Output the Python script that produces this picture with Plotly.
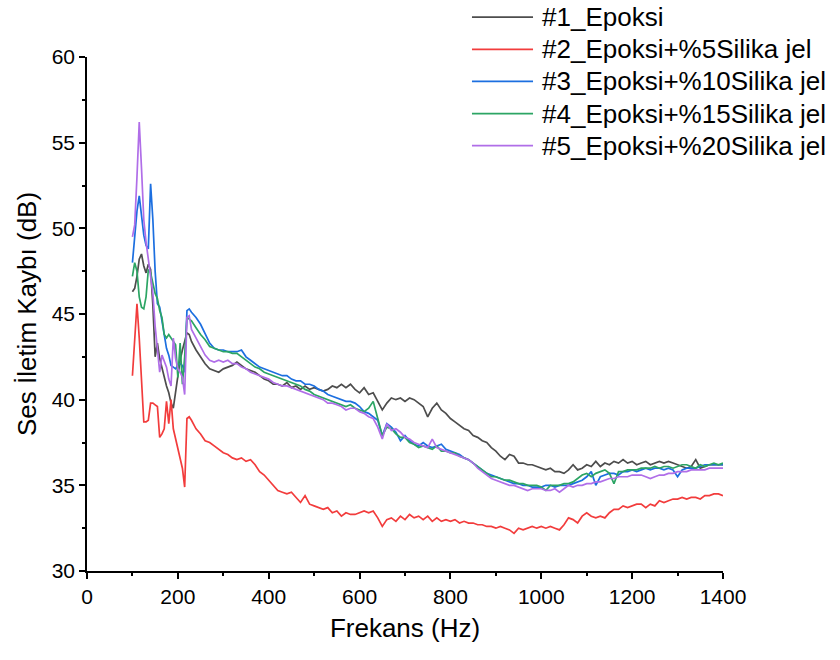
import plotly.graph_objects as go

# Frequency grid (Hz): 5 Hz steps in the low band, 10 Hz steps above
freq = list(range(100, 230, 5)) + list(range(230, 1401, 10))

# Sound transmission loss (dB), low band 100-225 Hz (5 Hz steps)
epoksi_low = [46.3, 46.5, 47.2, 48.2, 48.5, 47.8, 47.4, 47.9, 47.6, 45.5,
              42.5, 43.3, 42.4, 41.8, 41.2, 40.8, 40.4, 39.8, 39.5, 40.5,
              41.5, 42.3, 42.9, 43.5, 43.9, 43.8]
si5_low = [41.4, 43.5, 45.6, 43.6, 41.5, 38.7, 38.7, 38.8, 39.8, 39.8,
           39.7, 39.6, 37.8, 38.0, 38.3, 39.9, 38.6, 40.0, 38.3, 37.7,
           37.3, 36.6, 36.0, 34.9, 38.9, 39.0]
si10_low = [48.0, 49.5, 51.0, 51.9, 50.6, 49.6, 49.0, 48.8, 52.6, 50.5,
            47.5, 45.6, 45.4, 44.6, 43.8, 43.0, 42.6, 42.0, 41.9, 41.8,
            42.0, 42.1, 42.0, 41.6, 45.2, 45.3]
si15_low = [47.2, 48.0, 47.5, 46.0, 45.4, 45.3, 46.0, 47.6, 47.4, 46.8,
            46.2, 45.9, 45.2, 44.8, 43.8, 43.6, 43.8, 43.6, 43.4, 43.2,
            41.3, 43.3, 40.9, 42.5, 44.8, 44.7]
si20_low = [49.5, 50.2, 53.0, 56.2, 53.5, 50.5, 49.2, 48.2, 47.5, 46.2,
            44.3, 43.0, 41.6, 42.6, 42.2, 41.9, 41.2, 40.8, 43.6, 42.4,
            41.8, 41.6, 41.3, 40.3, 44.8, 44.9]

# 230-1400 Hz (10 Hz steps)
epoksi_high = [
    43.4, 42.9, 42.5, 42.1, 41.8, 41.7, 41.6, 41.8, 41.9, 42.0,
    42.2, 42.0, 41.8, 41.7, 41.6, 41.4, 41.2, 41.1, 40.9, 40.9,
    40.8, 41.0, 40.7, 40.8, 40.6, 40.8, 40.6, 40.7, 40.6, 40.5,
    40.6, 40.8, 40.7, 40.9, 40.7, 40.9, 40.6, 40.4, 40.7, 40.3,
    40.4, 39.9, 39.4, 39.8, 40.1, 40.0, 40.1, 39.9, 40.1, 40.0,
    39.8, 39.6, 39.0, 39.5, 39.8, 39.4, 39.2, 38.9, 38.7, 38.5,
    38.3, 38.2, 37.9, 37.8, 37.6, 37.5, 37.2, 37.0, 36.7, 36.5,
    36.8, 36.7, 36.3, 36.3, 36.2, 36.2, 36.1, 36.0, 35.9, 36.0,
    35.8, 35.8, 35.7, 35.9, 36.2, 35.9, 36.0, 36.2, 36.1, 36.4,
    36.1, 36.3, 36.2, 36.4, 36.3, 36.5, 36.3, 36.4, 36.2, 36.3,
    36.4, 36.2, 36.3, 36.4, 36.3, 36.4, 36.3, 36.2, 36.1, 36.0,
    36.1, 36.5, 36.0, 36.1, 36.2, 36.2, 36.2, 36.2]
si5_high = [
    38.8, 38.3, 38.0, 37.6, 37.5, 37.3, 37.1, 36.9, 36.8, 36.6,
    36.5, 36.6, 36.4, 36.5, 36.2, 35.8, 35.6, 35.3, 35.0, 34.7,
    34.6, 34.5, 34.6, 34.3, 34.0, 34.4, 33.9, 33.8, 33.7, 33.6,
    33.7, 33.4, 33.5, 33.2, 33.4, 33.3, 33.3, 33.4, 33.5, 33.4,
    33.5, 33.1, 32.6, 33.0, 33.1, 32.9, 33.2, 33.0, 33.3, 33.1,
    33.2, 33.0, 33.2, 32.9, 33.1, 32.9, 33.0, 32.9, 33.0, 32.8,
    32.9, 32.8, 32.8, 32.7, 32.7, 32.6, 32.6, 32.5, 32.6, 32.5,
    32.4, 32.2, 32.5, 32.4, 32.5, 32.6, 32.5, 32.6, 32.5, 32.6,
    32.5, 32.4, 32.7, 33.1, 33.0, 32.8, 33.2, 33.4, 33.2, 33.1,
    33.2, 33.1, 33.4, 33.6, 33.6, 33.8, 33.7, 33.8, 33.9, 33.9,
    33.7, 33.9, 33.8, 34.1, 34.0, 34.1, 34.2, 34.2, 34.3, 34.2,
    34.3, 34.3, 34.2, 34.4, 34.4, 34.5, 34.5, 34.4]
si10_high = [
    45.1, 44.8, 44.4, 43.8, 43.3, 43.0, 42.9, 42.9, 42.8, 42.8,
    42.8, 42.9, 42.5, 42.3, 42.1, 41.9, 41.8, 41.7, 41.6, 41.5,
    41.4, 41.4, 41.2, 41.1, 41.1, 40.9, 40.9, 40.8, 40.6, 40.5,
    40.3, 40.2, 40.1, 40.0, 39.9, 39.9, 39.8, 39.6, 39.3, 39.2,
    39.0, 38.8, 37.9, 38.6, 38.4, 38.1, 37.6, 37.9, 37.6, 37.4,
    37.3, 37.5, 37.3, 37.2, 37.3, 37.4, 37.1, 37.0, 36.9, 36.8,
    36.6, 36.5, 36.3, 36.1, 35.9, 35.7, 35.6, 35.5, 35.4, 35.3,
    35.2, 35.1, 35.1, 35.0, 35.0, 34.9, 34.9, 34.9, 35.0, 35.0,
    34.9, 35.0, 35.0, 35.0, 35.1, 35.2, 35.3, 35.5, 35.8, 35.0,
    35.5, 35.6, 35.7, 35.7, 35.6, 35.8, 35.8, 35.9, 35.8, 35.9,
    36.0, 35.9, 36.0, 36.0, 35.9, 36.0, 35.9, 35.5, 35.9, 36.0,
    36.0, 36.0, 36.1, 36.2, 36.2, 36.2, 36.2, 36.2]
si15_high = [
    44.6, 44.2, 43.8, 43.5, 43.1, 43.0, 42.9, 42.8, 42.8, 42.7,
    42.7, 42.5, 42.3, 42.1, 41.9, 41.8, 41.6, 41.5, 41.4, 41.3,
    41.2, 41.1, 41.0, 40.9, 40.8, 40.6, 40.5, 40.3, 40.2, 40.1,
    40.0, 39.9, 39.8, 39.7, 39.6, 39.7, 39.5, 39.4, 39.3, 39.5,
    39.9, 38.9, 37.9, 38.4, 38.3, 38.0, 37.8, 37.8, 37.5, 37.4,
    37.2, 37.3, 37.2, 37.1, 37.3, 37.0, 37.0, 36.9, 36.9, 36.7,
    36.6, 36.5, 36.3, 36.1, 35.9, 35.7, 35.5, 35.5, 35.4, 35.3,
    35.3, 35.2, 35.1, 35.1, 35.0, 35.0, 35.0, 34.9, 34.7, 35.0,
    35.0, 35.0, 35.1, 35.1, 35.2, 35.4, 35.6, 35.7, 35.5, 35.7,
    35.8, 35.9, 35.7, 35.1, 35.8, 35.8, 35.9, 35.9, 35.9, 36.0,
    36.0, 36.0, 36.1, 36.0, 36.1, 36.1, 36.0, 36.1, 36.2, 36.2,
    36.1, 36.0, 36.2, 36.1, 36.2, 36.3, 36.2, 36.3]
si20_high = [
    44.1, 43.6, 43.1, 42.6, 42.3, 42.2, 42.3, 42.2, 42.3, 42.1,
    42.1, 41.9, 41.8, 41.6, 41.5, 41.4, 41.3, 41.2, 41.0, 40.9,
    40.8, 40.8, 40.7, 40.6, 40.5, 40.4, 40.3, 40.2, 40.1, 40.0,
    39.8, 39.8, 39.7, 39.6, 39.4, 39.5, 39.5, 39.3, 39.2, 39.0,
    38.9, 38.4, 37.7, 38.6, 38.2, 38.3, 38.1, 37.8, 37.7, 37.5,
    37.4, 37.3, 37.2, 37.7, 37.2, 37.1, 37.0, 36.9, 36.8, 36.7,
    36.6, 36.5, 36.3, 36.0, 35.8, 35.6, 35.4, 35.3, 35.2, 35.1,
    35.0, 35.0, 34.9, 34.8, 34.7, 34.8, 34.8, 34.8, 34.7, 34.7,
    34.8, 34.6, 34.8, 35.0, 34.9, 35.0, 35.0, 35.1, 35.1, 35.2,
    35.2, 35.3, 35.4, 35.4, 35.5, 35.5, 35.5, 35.6, 35.6, 35.6,
    35.5, 35.4, 35.5, 35.6, 35.6, 35.7, 35.7, 35.8, 35.8, 35.8,
    35.9, 35.9, 35.9, 35.9, 36.0, 36.0, 36.0, 36.0]

names = ["#1_Epoksi", "#2_Epoksi+%5Silika jel", "#3_Epoksi+%10Silika jel",
         "#4_Epoksi+%15Silika jel", "#5_Epoksi+%20Silika jel"]
values = [epoksi_low + epoksi_high, si5_low + si5_high, si10_low + si10_high,
          si15_low + si15_high, si20_low + si20_high]
colors = ["#4d4d4d", "#f23c3c", "#1c6fe0", "#2ca564", "#b06ee8"]

FONT = "Arial, Liberation Sans, sans-serif"

fig = go.Figure()
for name, vals, color in zip(names, values, colors):
    fig.add_trace(go.Scatter(x=freq, y=vals, mode="lines", name=name,
                             showlegend=False,
                             line=dict(color=color, width=1.7)))

# Key drawn above the plot area (paper coordinates), one row per series
key_x0, key_x1, key_text_x = 0.6053, 0.7013, 0.7123
key_top, key_step = 1.0774, 0.0625
for i, (name, color) in enumerate(zip(names, colors)):
    yk = key_top - i * key_step
    fig.add_shape(type="line", xref="paper", yref="paper",
                  x0=key_x0, x1=key_x1, y0=yk, y1=yk,
                  line=dict(color=color, width=1.7))
    fig.add_annotation(xref="paper", yref="paper", x=key_text_x, y=yk,
                       xanchor="left", yanchor="middle", showarrow=False,
                       text=name, font=dict(family=FONT, size=26, color="black"))

axis_common = dict(
    showline=True, linecolor="black", linewidth=1.5, mirror=False,
    ticks="outside", ticklen=6, tickwidth=1.5, tickcolor="black",
    showgrid=False, zeroline=False,
    tickfont=dict(family=FONT, size=21, color="black"),
)

fig.update_xaxes(
    range=[0, 1400], tick0=0, dtick=200,
    minor=dict(ticks="outside", ticklen=3, tickwidth=1.5, tickcolor="black", dtick=100),
    title=dict(text="Frekans (Hz)", font=dict(family=FONT, size=26, color="black"), standoff=12),
    **axis_common,
)
fig.update_yaxes(
    range=[30, 60], tick0=30, dtick=5,
    minor=dict(ticks="outside", ticklen=3, tickwidth=1.5, tickcolor="black", dtick=2.5),
    title=dict(text="Ses İletim Kaybı (dB)", font=dict(family=FONT, size=26, color="black"), standoff=8),
    **axis_common,
)

fig.update_layout(
    width=840, height=660,
    margin=dict(l=87, r=117, t=57, b=89, autoexpand=False),
    paper_bgcolor="white", plot_bgcolor="white",
    showlegend=False,
)

fig.write_html("out.html")
